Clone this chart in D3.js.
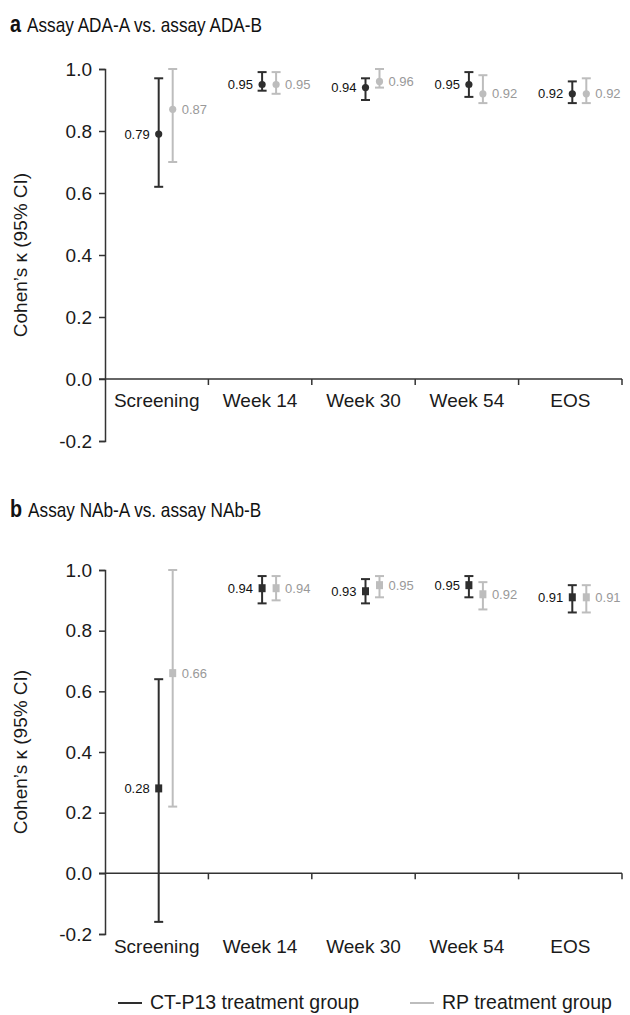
<!DOCTYPE html>
<html>
<head>
<meta charset="utf-8">
<script src="https://cdnjs.cloudflare.com/ajax/libs/d3/7.8.5/d3.min.js"></script>
<style>
  body { margin: 0; background: #fff; }
  svg { display: block; font-family: "Liberation Sans", Arial, sans-serif; }
</style>
</head>
<body>
<script>
// categories and tick values
var categories = ["Screening", "Week 14", "Week 30", "Week 54", "EOS"];
var yTicks = [-0.2, 0.0, 0.2, 0.4, 0.6, 0.8, 1.0];

// panel a: ADA assays
var adaCtp13     = [0.79, 0.95, 0.94, 0.95, 0.92];
var adaCtp13Low  = [0.62, 0.93, 0.90, 0.91, 0.89];
var adaCtp13High = [0.97, 0.99, 0.97, 0.99, 0.96];
var adaRp        = [0.87, 0.95, 0.96, 0.92, 0.92];
var adaRpLow     = [0.70, 0.92, 0.94, 0.89, 0.89];
var adaRpHigh    = [1.00, 0.99, 1.00, 0.98, 0.97];

// panel b: NAb assays
var nabCtp13     = [0.28, 0.94, 0.93, 0.95, 0.91];
var nabCtp13Low  = [-0.16, 0.89, 0.89, 0.91, 0.86];
var nabCtp13High = [0.64, 0.98, 0.97, 0.98, 0.95];
var nabRp        = [0.66, 0.94, 0.95, 0.92, 0.91];
var nabRpLow     = [0.22, 0.90, 0.91, 0.87, 0.86];
var nabRpHigh    = [1.00, 0.98, 0.98, 0.96, 0.95];

var legendLabels = ["CT-P13 treatment group", "RP treatment group"];

//set up
var width = 630, height = 1015;
var xLeft = 105, xRight = 622;
var darkColor = "#2e2e2e", lightColor = "#bdbdbd";

var svg = d3.select("body").append("svg")
    .attr("width", width)
    .attr("height", height);

var x = d3.scaleBand()
    .domain(categories)
    .range([xLeft, xRight]);

var panels = [
    {letter: "a", title: "Assay ADA-A vs. assay ADA-B", titleY: 32, top: 69, bottom: 441, labelGap: 28, marker: "circle",
     dark: adaCtp13, darkLow: adaCtp13Low, darkHigh: adaCtp13High,
     light: adaRp, lightLow: adaRpLow, lightHigh: adaRpHigh},
    {letter: "b", title: "Assay NAb-A vs. assay NAb-B", titleY: 517, top: 570, bottom: 934, labelGap: 80, marker: "square",
     dark: nabCtp13, darkLow: nabCtp13Low, darkHigh: nabCtp13High,
     light: nabRp, lightLow: nabRpLow, lightHigh: nabRpHigh}
];

panels.forEach(drawPanel);

function drawPanel(p){
    var y = d3.scaleLinear()
        .domain([-0.2, 1.0])
        .range([p.bottom, p.top]);

    var g = svg.append("g");

    //panel title
    var title = g.append("text")
        .attr("transform", "translate(10," + p.titleY + ") scale(0.86,1)")
        .attr("fill", "#111")
        .attr("font-size", 20);
    title.append("tspan").attr("font-weight", "bold").attr("font-size", 23).text(p.letter);
    title.append("tspan").attr("dx", 7).text(p.title);

    //left axis
    var yAxis = g.append("g")
        .attr("transform", "translate(" + xLeft + ",0)")
        .call(d3.axisLeft(y)
            .tickValues(yTicks)
            .tickSize(6)
            .tickSizeOuter(6)
            .tickPadding(7)
            .tickFormat(function(d){ return d.toFixed(1); }));
    yAxis.selectAll("path, line").attr("stroke", "#333").attr("stroke-width", 1.5);
    yAxis.selectAll("text")
        .attr("font-size", 19)
        .attr("fill", "#1a1a1a")
        .attr("font-family", "Liberation Sans, Arial, sans-serif");

    //bottom axis at zero
    var y0 = y(0);
    g.append("line")
        .attr("x1", xLeft - 6).attr("x2", xRight)
        .attr("y1", y0).attr("y2", y0)
        .attr("stroke", "#333").attr("stroke-width", 1.5);
    g.selectAll(".xtick")
        .data(categories)
        .enter().append("line")
        .attr("class", "xtick")
        .attr("x1", function(d){ return x(d) + x.bandwidth(); })
        .attr("x2", function(d){ return x(d) + x.bandwidth(); })
        .attr("y1", y0).attr("y2", y0 + 6)
        .attr("stroke", "#333").attr("stroke-width", 1.5);
    g.selectAll(".xlabel")
        .data(categories)
        .enter().append("text")
        .attr("class", "xlabel")
        .attr("x", function(d){ return x(d) + x.bandwidth() / 2; })
        .attr("y", y0 + p.labelGap)
        .attr("text-anchor", "middle")
        .attr("font-size", 19)
        .attr("fill", "#1a1a1a")
        .text(function(d){ return d; });

    //y label
    g.append("text")
        .attr("transform", "translate(27," + y(0.4) + ") rotate(-90)")
        .attr("text-anchor", "middle")
        .attr("font-size", 19)
        .attr("fill", "#1a1a1a")
        .text("Cohen\u2019s \u03ba (95% CI)");

    drawSeries(g, y, p.dark, p.darkLow, p.darkHigh, darkColor, "#111", 2, "end", p.marker);
    drawSeries(g, y, p.light, p.lightLow, p.lightHigh, lightColor, "#999", 16, "start", p.marker);
}

function drawSeries(g, y, vals, lows, highs, color, textColor, shift, side, marker){
    var data = categories.map(function(c, i){
        return {cat: c, v: vals[i], lo: lows[i], hi: highs[i]};
    });
    var cx = function(d){ return x(d.cat) + x.bandwidth() / 2 + shift; };

    var s = g.append("g");
    //whiskers
    s.selectAll(".bar")
        .data(data)
        .enter().append("line")
        .attr("x1", cx).attr("x2", cx)
        .attr("y1", function(d){ return y(d.hi); })
        .attr("y2", function(d){ return y(d.lo); })
        .attr("stroke", color).attr("stroke-width", 2);
    ["hi", "lo"].forEach(function(k){
        s.selectAll(".cap-" + k)
            .data(data)
            .enter().append("line")
            .attr("x1", function(d){ return cx(d) - 4.5; })
            .attr("x2", function(d){ return cx(d) + 4.5; })
            .attr("y1", function(d){ return y(d[k]); })
            .attr("y2", function(d){ return y(d[k]); })
            .attr("stroke", color).attr("stroke-width", 2);
    });

    //markers
    if (marker == "circle") {
        s.selectAll(".pt")
            .data(data)
            .enter().append("circle")
            .attr("cx", cx)
            .attr("cy", function(d){ return y(d.v); })
            .attr("r", 3.6)
            .attr("fill", color);
    } else {
        s.selectAll(".pt")
            .data(data)
            .enter().append("rect")
            .attr("x", function(d){ return cx(d) - 3.5; })
            .attr("y", function(d){ return y(d.v) - 4; })
            .attr("width", 7).attr("height", 8)
            .attr("fill", color);
    }

    //value labels
    s.selectAll(".val")
        .data(data)
        .enter().append("text")
        .attr("x", function(d){ return side == "end" ? cx(d) - 9 : cx(d) + 9; })
        .attr("y", function(d){ return y(d.v); })
        .attr("dy", "0.35em")
        .attr("text-anchor", side)
        .attr("font-size", 13)
        .attr("fill", textColor)
        .text(function(d){ return d.v.toFixed(2); });
}

//legend
var legendX = [118, 410];
var legendColors = [darkColor, lightColor];
var legend = svg.selectAll(".legend")
    .data(legendLabels)
    .enter().append("g")
    .attr("class", "legend")
    .attr("transform", function(d, i){ return "translate(" + legendX[i] + ",1003)"; });
legend.append("line")
    .attr("x1", 0).attr("x2", 24)
    .attr("stroke", function(d, i){ return legendColors[i]; })
    .attr("stroke-width", 2);
legend.append("text")
    .attr("x", 32)
    .attr("y", 6)
    .attr("font-size", 19.5)
    .attr("fill", "#1a1a1a")
    .text(function(d){ return d; });
</script>
</body>
</html>
